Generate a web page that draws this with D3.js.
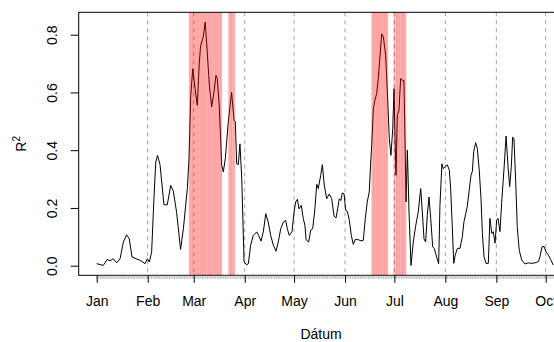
<!DOCTYPE html>
<html>
<head>
<meta charset="utf-8">
<script src="https://cdn.jsdelivr.net/npm/d3@7"></script>
<style>
  body { margin: 0; background: #fff; }
  svg { display: block; font-family: "Liberation Sans", Arial, Helvetica, sans-serif; }
</style>
</head>
<body>
<div id="chart"></div>
<script>
// days since Jan 1 and the R^2 value read at that point
const dayOffsets = [0,4.0,6.4,8.1,10.1,12.2,14.2,16.2,18.2,19.8,
  21.5,23.9,26.3,29.4,30.8,32.0,33.4,34.8,35.9,37.0,
  38.5,40.9,42.9,45.0,46.6,48.6,51.0,52.7,55.1,56.1,
  57.2,58.4,59.8,61.2,62.4,63.2,64.8,66.0,67.2,68.5,
  69.9,71.3,72.5,73.3,74.5,76.0,77.0,78.2,80.0,82.0,
  83.5,84.3,85.1,86.1,87.1,88.2,89.6,91.2,92.2,93.6,
  95.2,97.3,98.5,99.9,101.3,102.8,104.3,105.8,107.4,109.0,
  110.4,111.9,113.5,114.9,115.9,117.1,118.7,120.0,121.0,122.0,
  123.0,124.4,125.6,126.6,127.3,128.9,130.1,131.3,132.5,133.8,
  134.7,136.2,137.2,138.4,139.8,141.4,142.9,144.3,145.5,146.5,
  147.5,148.5,149.3,150.4,151.4,152.4,153.6,154.8,156.0,157.2,
  159.1,160.7,162.1,163.3,164.5,165.7,166.6,167.2,168.2,169.2,
  170.2,171.2,172.3,173.3,174.3,175.7,176.9,177.9,178.9,180.0,
  180.8,181.4,182.0,182.8,183.8,184.8,185.8,186.8,187.6,188.1,
  188.9,189.9,191.1,192.5,194.0,195.5,197.0,198.0,199.0,200.0,
  201.0,202.0,203.1,204.3,205.3,206.7,207.9,208.7,209.9,210.7,
  212.0,213.2,214.4,215.2,216.2,217.1,218.0,219.3,220.9,222.3,
  223.3,224.4,225.3,226.5,227.6,228.4,229.2,230.4,231.4,232.6,
  233.7,234.5,235.5,236.7,238.1,239.1,240.2,241.1,242.2,243.2,
  244.0,245.2,246.2,247.6,248.9,250.1,251.1,252.1,252.9,253.7,
  254.8,255.7,256.9,258.4,260.4,262.4,264.5,266.5,268.5,269.5,
  270.8,272.0,273.2,274.6,276.0,277.6];

const r2Values = [0.007,0.001,0.022,0.017,0.024,0.010,0.024,0.082,0.107,0.093,
  0.030,0.024,0.019,0.007,0.024,0.013,0.047,0.232,0.359,0.382,
  0.350,0.211,0.211,0.278,0.258,0.184,0.056,0.128,0.267,0.366,
  0.590,0.682,0.613,0.555,0.705,0.763,0.792,0.844,0.740,0.625,
  0.550,0.601,0.659,0.648,0.555,0.348,0.325,0.371,0.498,0.601,
  0.504,0.498,0.353,0.350,0.422,0.301,0.013,0.003,0.007,0.071,
  0.105,0.117,0.105,0.085,0.117,0.180,0.151,0.105,0.071,0.050,
  0.082,0.128,0.151,0.157,0.128,0.105,0.117,0.186,0.221,0.230,
  0.197,0.209,0.163,0.140,0.090,0.082,0.123,0.128,0.186,0.282,
  0.267,0.313,0.350,0.278,0.232,0.248,0.232,0.172,0.165,0.197,
  0.232,0.226,0.252,0.249,0.192,0.188,0.157,0.105,0.074,0.091,
  0.090,0.086,0.088,0.163,0.221,0.255,0.359,0.417,0.544,0.573,
  0.596,0.648,0.729,0.803,0.792,0.729,0.578,0.440,0.382,0.474,
  0.613,0.440,0.313,0.521,0.538,0.648,0.642,0.642,0.394,0.221,
  0.400,0.186,0.001,0.082,0.140,0.186,0.267,0.186,0.093,0.082,
  0.174,0.238,0.163,0.065,0.059,0.030,0.007,0.209,0.353,0.336,
  0.343,0.349,0.331,0.268,0.135,0.008,0.037,0.060,0.060,0.100,
  0.152,0.181,0.204,0.262,0.314,0.326,0.395,0.426,0.407,0.331,
  0.228,0.112,0.031,0.008,0.008,0.164,0.112,0.118,0.078,0.158,
  0.164,0.118,0.216,0.331,0.449,0.343,0.274,0.343,0.445,0.441,
  0.285,0.135,0.054,0.020,0.006,0.010,0.008,0.010,0.014,0.031,
  0.066,0.066,0.048,0.037,0.022,0.002];

// highlighted day ranges (inclusive), plus a single fainter day
const shadeFrom = [56, 80, 167, 181];
const shadeTo = [75, 83, 176, 187];
const paleDays = [180];

const yTicks = [0, 0.2, 0.4, 0.6, 0.8];
const xLabel = 'Dátum';

const W = 554, H = 342;
const box = { left: 78.7, right: 563.3, top: 12.3, bottom: 275.3 };
const DAY = 864e5;
const t0 = Date.UTC(2015, 0, 1);
const toDate = d => new Date(t0 + d * DAY);

const x = d3.scaleUtc()
    .domain([toDate(0), toDate(273)])
    .range([96.7, 545.7]);
const y = d3.scaleLinear()
    .domain([0, 0.8])
    .range([265.7, 34.7]);

const svg = d3.select('#chart').append('svg')
    .attr('width', W)
    .attr('height', H);

const data = dayOffsets.map((d, i) => ({ date: toDate(d), v: r2Values[i] }));

// month guide lines (not for Jan)
const months = d3.utcMonth.range(toDate(0), toDate(290));
svg.append('g').selectAll('line')
    .data(months.filter(m => m.getUTCMonth() > 0))
    .join('line')
    .attr('x1', d => x(d)).attr('x2', d => x(d))
    .attr('y1', box.top).attr('y2', box.bottom)
    .attr('stroke', '#a3a3a3')
    .attr('stroke-width', 1)
    .attr('stroke-dasharray', '4,4');

svg.append('path')
    .datum(data)
    .attr('fill', 'none')
    .attr('stroke', '#000')
    .attr('stroke-width', 1)
    .attr('stroke-linejoin', 'round')
    .attr('d', d3.line().x(d => x(d.date)).y(d => y(d.v)));

// red shading one day at a time, drawn over the line
let shadeDays = [];
shadeFrom.forEach((s, i) => {
    shadeDays = shadeDays.concat(d3.range(s, shadeTo[i] + 1));
});
const dayW = x(toDate(1)) - x(toDate(0));
svg.append('g').selectAll('rect')
    .data(shadeDays)
    .join('rect')
    .attr('x', d => x(toDate(d)))
    .attr('y', box.top)
    .attr('width', dayW + 0.35)
    .attr('height', box.bottom - box.top)
    .attr('fill', 'rgba(255,0,0,0.3)');
svg.append('g').selectAll('rect')
    .data(paleDays)
    .join('rect')
    .attr('x', d => x(toDate(d)))
    .attr('y', box.top)
    .attr('width', dayW)
    .attr('height', box.bottom - box.top)
    .attr('fill', 'rgba(255,0,0,0.15)');

svg.append('rect')
    .attr('x', box.left).attr('y', box.top)
    .attr('width', box.right - box.left)
    .attr('height', box.bottom - box.top)
    .attr('fill', 'none')
    .attr('stroke', '#000')
    .attr('stroke-width', 1);

// x axis: daily minor ticks + monthly major ticks
const minor = svg.append('g')
    .attr('transform', `translate(0,${box.bottom})`)
    .call(d3.axisBottom(x).tickValues(d3.utcDay.range(toDate(0), toDate(285))).tickSize(3.5).tickFormat(''));
minor.select('.domain').remove();
minor.selectAll('line').attr('stroke', '#8a8a8a').attr('stroke-width', 0.6);

const xAxis = svg.append('g')
    .attr('transform', `translate(0,${box.bottom})`)
    .call(d3.axisBottom(x).tickValues(months).tickSize(7.5).tickFormat(d3.utcFormat('%b')));
xAxis.select('.domain').remove();
xAxis.selectAll('text')
    .attr('y', 31)
    .attr('dy', 0)
    .attr('font-size', 14)
    .attr('font-family', null)
    .attr('fill', '#000');

const yAxis = svg.append('g')
    .attr('transform', `translate(${box.left},0)`)
    .call(d3.axisLeft(y).tickValues(yTicks).tickSize(8).tickFormat(d3.format('.1f')));
yAxis.select('.domain').remove();
yAxis.selectAll('text')
    .attr('x', 0).attr('dy', 0)
    .attr('transform', 'translate(-22,0) rotate(-90)')
    .attr('text-anchor', 'middle')
    .attr('font-size', 14)
    .attr('font-family', null)
    .attr('fill', '#000');

svg.append('text')
    .attr('x', (box.left + box.right) / 2)
    .attr('y', 339)
    .attr('text-anchor', 'middle')
    .attr('font-size', 14)
    .text(xLabel);

const yl = svg.append('text')
    .attr('transform', `translate(26,${(box.top + box.bottom) / 2}) rotate(-90)`)
    .attr('text-anchor', 'middle')
    .attr('font-size', 14);
yl.append('tspan').text('R');
yl.append('tspan').attr('dy', -6).attr('font-size', 10).text('2');
</script>
</body>
</html>
